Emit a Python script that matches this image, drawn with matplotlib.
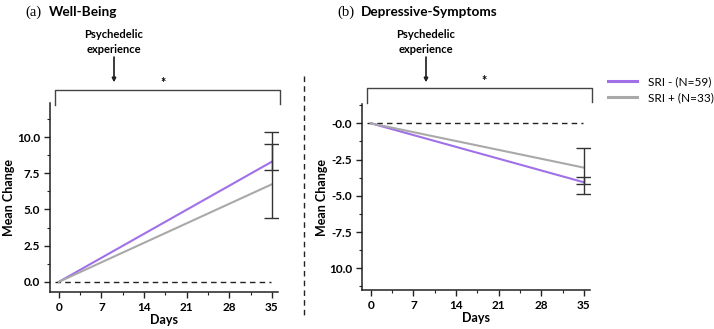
import matplotlib
matplotlib.use("Agg")
import matplotlib.pyplot as plt
from matplotlib.ticker import MultipleLocator, FixedLocator, FixedFormatter
from matplotlib.lines import Line2D

W, H = 714, 329

# mean change at baseline and day 35
days = [0, 35]
wb_sri_neg = [0.0, 8.30]
wb_sri_pos = [0.0, 6.74]
dep_sri_neg = [0.0, -4.07]
dep_sri_pos = [0.0, -3.06]

# error bar extents at day 35 (low, high)
wb_err_neg = (7.72, 10.32)
wb_err_pos = (4.39, 9.50)
dep_err_neg = (-4.87, -3.68)
dep_err_pos = (-4.20, -1.68)

x_ticks = [0, 7, 14, 21, 28, 35]
wb_yticks = [0.0, 2.5, 5.0, 7.5, 10.0]
wb_ylabels = ["0.0", "2.5", "5.0", "7.5", "10.0"]
dep_yticks = [0.0, -2.5, -5.0, -7.5, -10.0]
dep_ylabels = ["-0.0", "-2.5", "-5.0", "-7.5", "10.0"]

labels = ["SRI - (N=59)", "SRI + (N=33)"]
PURPLE = "#a070e8"
GREY = "#a9a9a9"
INK = "#222222"

plt.rcParams["font.family"] = ["Lato", "DejaVu Sans"]


def fx(x):
    return x / W


def fy(y):
    return 1 - y / H


def box(x0, y0, x1, y1):
    return [fx(x0), fy(y1), fx(x1) - fx(x0), fy(y0) - fy(y1)]


def panel(ax, neg, pos, err_neg, err_pos, yticks, ylabels, ylim, ylab_x):
    ax.plot(days, neg, color=PURPLE, lw=1.5, zorder=3)
    ax.plot(days, pos, color=GREY, lw=1.5, zorder=3)
    for mean, (lo, hi) in ((neg[-1], err_neg), (pos[-1], err_pos)):
        ax.errorbar([35], [mean], yerr=[[mean - lo], [hi - mean]], fmt="none",
                    ecolor="#333333", elinewidth=1.0, capsize=6, capthick=1.0, zorder=4)
    ax.axhline(0, xmin=0.02, xmax=0.97, color=INK, lw=1.0, ls=(0, (4, 3)), zorder=2)
    ax.set_xlim(-1.45, 36.0)
    ax.set_ylim(*ylim)
    ax.xaxis.set_major_locator(FixedLocator(x_ticks))
    ax.xaxis.set_minor_locator(MultipleLocator(3.5))
    ax.yaxis.set_major_locator(FixedLocator(yticks))
    ax.yaxis.set_major_formatter(FixedFormatter(ylabels))
    ax.yaxis.set_minor_locator(MultipleLocator(1.25))
    for s in ("top", "right"):
        ax.spines[s].set_visible(False)
    for s in ("left", "bottom"):
        ax.spines[s].set_linewidth(1.1)
        ax.spines[s].set_color(INK)
    ax.tick_params(which="major", length=4, width=1.0, color=INK, labelsize=8.5, pad=3)
    ax.tick_params(which="minor", length=2.5, width=0.8, color=INK)
    for t in ax.get_xticklabels() + ax.get_yticklabels():
        t.set_fontweight("bold")
    ax.set_xlabel("Days", fontsize=9, fontweight="bold", labelpad=1)
    ax.set_ylabel("Mean Change", fontsize=9, fontweight="bold", va="center")
    ax.yaxis.set_label_coords(ylab_x, 0.5)


fig = plt.figure(figsize=(W / 100, H / 100), dpi=100)

ax1 = fig.add_axes(box(50, 103, 278, 292))
panel(ax1, wb_sri_neg, wb_sri_pos, wb_err_neg, wb_err_pos,
      wb_yticks, wb_ylabels, (-0.7, 12.35), (9 - 50) / 228)

ax2 = fig.add_axes(box(362, 104, 590, 290))
panel(ax2, dep_sri_neg, dep_sri_pos, dep_err_neg, dep_err_pos,
      dep_yticks, dep_ylabels, (-11.5, 1.33), (322 - 362) / 228)

# panel titles
fig.text(fx(25), fy(12), "(a)", family="Liberation Serif", fontsize=10.5, va="center")
fig.text(fx(49), fy(12), "Well-Being", fontsize=9.8, fontweight="bold", va="center")
fig.text(fx(337), fy(12), "(b)", family="Liberation Serif", fontsize=10.5, va="center")
fig.text(fx(361), fy(12), "Depressive-Symptoms", fontsize=9.8, fontweight="bold", va="center")

# brackets, stars and treatment arrows
for bx0, bx1, by, star_x, arr_x in ((55, 280, 90, 163, 114), (367, 592, 88, 484, 426)):
    fig.add_artist(Line2D([fx(bx0), fx(bx0), fx(bx1), fx(bx1)],
                          [fy(by + 15), fy(by), fy(by), fy(by + 14)],
                          transform=fig.transFigure, color="#444444", lw=1.0))
    fig.text(fx(star_x), fy(by - 7), "*", fontsize=9, fontweight="bold", ha="center", va="center")
    fig.text(fx(arr_x), fy(42), "Psychedelic\nexperience", fontsize=8, fontweight="bold",
             ha="center", va="center", linespacing=1.45)
    fig.add_artist(plt.annotate("", xy=(fx(arr_x), fy(82)), xytext=(fx(arr_x), fy(57)),
                                xycoords=fig.transFigure,
                                arrowprops=dict(arrowstyle="-|>", color=INK, lw=0.9,
                                                mutation_scale=6, shrinkA=0, shrinkB=0)))

# divider between panels
fig.add_artist(Line2D([fx(304), fx(304)], [fy(76), fy(316)], transform=fig.transFigure,
                      color=INK, lw=1.0, ls=(0, (4, 3))))

# legend
handles = [Line2D([], [], color=PURPLE, lw=2.2), Line2D([], [], color=GREY, lw=2.2)]
fig.legend(handles, labels, loc="upper left", bbox_to_anchor=(fx(608), fy(76)),
           frameon=False, fontsize=8.5, handlelength=2.45, handletextpad=0.9,
           labelspacing=0.45, borderpad=0, borderaxespad=0)

fig.savefig("out.png", dpi=100)
